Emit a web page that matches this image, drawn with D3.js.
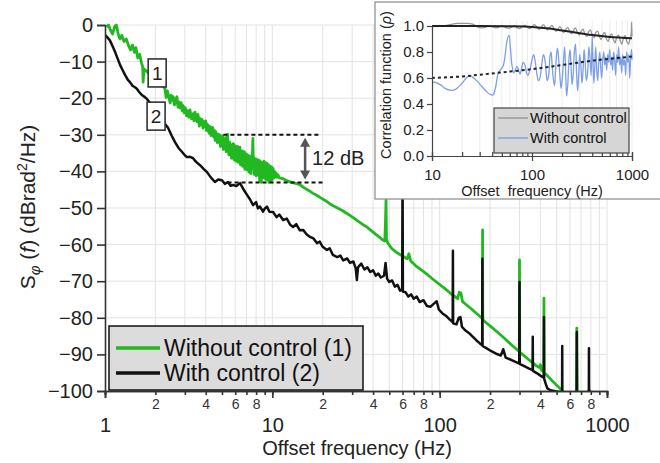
<!DOCTYPE html>
<html>
<head>
<meta charset="utf-8">
<script src="https://cdn.jsdelivr.net/npm/d3@7"></script>
<style>
  body { margin: 0; background: #fff; }
  svg { display: block; font-family: "Liberation Sans", Arial, sans-serif; }
</style>
</head>
<body>
<div id="chart"></div>
<script>
// ---- data (frequency in Hz, level in dBrad2/Hz) ----
var greenPts = [
  [1.02,-0.5],[1.05,0],[1.08,-1.5],[1.11,-2.5],[1.14,-0.5],[1.17,0],[1.20,-2.5],[1.23,-3.8],
  [1.26,-2.8],[1.30,-4.5],[1.34,-3.8],[1.38,-5.5],[1.42,-6.8],[1.46,-5.5],[1.50,-7.5],[1.53,-6.2],
  [1.57,-9.0],[1.61,-8.0],[1.65,-10.2],[1.68,-11.5],[1.69,-15.6],[1.71,-12.0],[1.76,-12.5],
  [1.85,-13.5],[1.95,-15],[2.05,-16],[2.15,-16.5],[2.28,-17.2],[2.32,-19.8],[2.36,-18.0],[2.40,-19.4],
  [2.45,-21.3],[2.49,-19.2],[2.52,-20.6],[2.56,-19.6],[2.60,-21.8],[2.65,-20.4],[2.69,-19.6],[2.73,-22.4],
  [2.76,-21.0],[2.80,-22.6],[2.85,-21.2],[2.89,-23.4],[2.93,-22.0],[2.97,-24.0],[3.02,-22.6],[3.07,-24.8],
  [3.12,-23.4],[3.17,-25.2],[3.22,-23.2],[3.29,-25.6],[3.36,-24.2],[3.40,-26.2],[3.45,-23.8],[3.50,-25.8],
  [3.55,-26.4],[3.59,-24.4],[3.62,-25.4],[3.66,-27.6],[3.70,-25.6],[3.75,-27.2],[3.80,-25.8],[3.85,-28.2],
  [3.90,-26.4],[3.95,-27.8],[4.00,-26.2],[4.04,-28.8],[4.07,-27.0],[4.11,-29.0],[4.15,-27.4],[4.20,-29.6],
  [4.25,-27.8],[4.30,-30.2],[4.35,-28.4],
  [4.40,-28.0],[4.45,-30.5],[4.50,-28.8],[4.55,-31.5],[4.60,-29.2],[4.65,-30.8],[4.70,-32.2],[4.75,-29.8],
  [4.80,-31.6],[4.85,-30.0],[4.90,-33.2],[4.95,-30.6],[5.00,-32.5],[5.05,-30.2],[5.10,-34.0],[5.15,-31.2],
  [5.20,-33.5],[5.25,-30.8],[5.30,-34.6],[5.35,-32.0],[5.40,-29.8],[5.45,-33.8],[5.50,-35.5],[5.55,-32.0],
  [5.60,-34.8],[5.65,-32.6],[5.70,-36.4],[5.75,-33.0],[5.80,-35.2],[5.85,-32.4],[5.90,-36.8],[5.95,-34.0],
  [6.00,-33.0],[6.05,-37.2],[6.10,-34.5],[6.15,-36.0],[6.20,-33.2],[6.25,-37.5],[6.30,-34.8],[6.35,-36.6],
  [6.40,-33.4],[6.45,-38.2],[6.50,-35.2],[6.55,-37.0],[6.60,-34.4],[6.65,-38.6],[6.70,-35.6],[6.75,-37.8],
  [6.80,-34.6],[6.85,-39.4],[6.90,-36.0],[6.95,-38.2],[7.00,-35.2],[7.05,-39.6],[7.10,-36.4],[7.15,-38.0],
  [7.20,-35.6],[7.25,-40.2],[7.30,-36.6],[7.35,-38.8],[7.40,-35.8],[7.45,-40.6],[7.50,-37.0],[7.55,-39.2],
  [7.60,-36.0],[7.65,-31.0],[7.70,-38.5],[7.75,-36.2],[7.80,-40.8],[7.85,-37.2],[7.90,-39.6],[7.95,-36.6],
  [8.00,-41.2],[8.05,-37.8],[8.10,-39.8],[8.15,-36.8],[8.20,-41.0],[8.25,-38.0],[8.30,-40.2],[8.35,-37.0],
  [8.40,-42.6],[8.45,-38.4],[8.50,-40.6],[8.55,-37.4],[8.60,-43.0],[8.65,-38.8],[8.70,-40.8],[8.75,-37.8],
  [8.80,-41.6],[8.85,-39.0],[8.90,-37.2],[8.95,-41.8],[9.00,-38.6],[9.05,-40.8],[9.10,-37.6],[9.15,-42.2],
  [9.20,-39.2],[9.25,-41.0],[9.30,-37.8],[9.35,-42.4],[9.40,-39.4],[9.45,-41.4],[9.50,-38.2],[9.55,-43.0],
  [9.60,-39.6],[9.65,-41.6],[9.70,-38.6],[9.75,-42.6],[9.80,-40.0],[9.85,-41.8],[9.90,-38.8],[9.95,-42.4],
  [10.0,-40.2],[10.1,-39.2],[10.2,-41.8],[10.3,-40.0],[10.4,-41.4],[10.5,-40.4],[10.6,-41.6],[10.8,-40.9],
  [11.0,-41.8],[11.6,-42.0],[12.3,-42.6],[13.0,-43.0],[13.8,-43.3],[14.6,-43.6],
  [15.5,-44.5],[16.5,-45.2],[17.5,-46.0],[18.5,-46.6],[19.6,-47.3],[20.8,-48.0],[22.0,-48.8],
  [23.1,-49.4],[24.5,-50.0],[26.0,-50.6],[27.5,-51.3],[29.1,-52.0],[31.0,-52.9],[33.0,-53.8],
  [35.0,-54.6],[36.7,-55.2],[39.0,-56.2],[41.5,-57.2],[44.0,-58.1],[45.9,-58.8],[47.0,-59.0],
  [47.5,-53],[47.8,-47.8],[48.1,-58.5],[49.0,-59.6],[52,-61.2],[56,-62.3],[60,-63.1],[64,-63.9],
  [65.5,-62.5],[67,-64.4],[72,-65.8],[78,-67.0],[85,-68.3],[92,-69.6],[100,-70.9],[108,-72.1],
  [116,-73.3],[124,-74.3],[128,-74.8],[131,-73.0],[134,-73.2],[137,-75.6],[145,-76.5],
  [155,-77.6],[165,-78.7],[175,-79.7],[180,-80.3],[180.5,-56.0],[181,-80.5],[190,-81.4],
  [205,-82.6],[220,-83.8],[240,-85.3],[260,-86.8],[280,-88.1],[299,-89.3],[300,-64.2],
  [301,-89.4],[320,-90.4],[340,-91.4],[360,-92.3],[380,-93.2],[395,-93.6],[400,-92.8],
  [405,-94.2],[419,-94.9],[420,-74.6],[421,-95.0],[440,-95.8],[470,-97.2],[500,-98.4],
  [530,-99.5],[550,-100.3],[600,-103],[655,-104],[660,-82.8],[665,-104],[700,-106]
];

var blackPts = [
  [1.0,-2.7],[1.03,-3.3],[1.07,-4.2],[1.11,-5.8],[1.15,-7.4],[1.19,-9.2],[1.23,-10.9],
  [1.28,-12.5],[1.32,-13.7],[1.37,-15.0],[1.41,-15.6],[1.46,-16.6],[1.51,-17.0],[1.55,-17.4],
  [1.60,-18.3],[1.66,-19.1],[1.72,-19.6],[1.78,-20.2],[1.95,-22.5],[2.15,-25.5],[2.38,-28.1],
  [2.50,-30.2],[2.62,-32.0],[2.75,-33.6],[2.89,-34.7],[3.00,-35.6],[3.09,-36.1],[3.22,-36.0],
  [3.36,-36.4],[3.50,-37.4],[3.70,-38.3],[3.88,-39.3],[4.07,-40.2],[4.30,-41.7],[4.54,-42.9],
  [4.75,-42.2],[5.00,-42.4],[5.20,-43.4],[5.43,-42.9],[5.63,-43.9],[5.83,-43.7],[6.10,-44.0],
  [6.41,-43.2],[6.70,-44.8],[7.06,-46.4],[7.35,-47.6],[7.67,-49.2],[8.00,-48.4],[8.20,-50.1],
  [8.44,-49.6],[8.80,-51.0],[9.0,-50.2],[9.29,-49.6],[9.60,-51.0],[10.1,-51.1],[10.6,-52.5],
  [11.0,-51.8],[11.6,-53.3],[12.2,-52.9],[12.8,-54.6],[13.3,-55.2],[13.9,-54.4],[14.6,-56.1],
  [15.3,-56.0],[16.0,-57.2],[16.8,-57.9],[17.6,-58.3],[18.5,-59.6],[19.2,-59.2],[20.0,-60.6],
  [21.2,-61.5],[22.0,-61.0],[23.0,-62.8],[24.4,-63.4],[25.5,-63.0],[26.5,-64.3],[28.0,-63.8],
  [29.1,-65.0],[30.5,-64.6],[31.5,-66.5],[32.0,-69.7],[32.5,-66.2],[34.0,-65.2],[35.5,-66.8],
  [37.0,-66.2],[38.5,-67.5],[40.0,-67.0],[41.5,-68.5],[43.0,-67.9],[44.5,-69.0],[46.5,-68.5],
  [47.5,-65.0],[48.5,-69.3],[50.0,-70.2],[52.0,-69.8],[54.0,-71.5],[56.0,-71.0],[58.0,-72.6],
  [59.7,-72.3],[60.0,-40],[60.3,-72.8],[62.5,-73.0],[65.0,-74.2],[67.5,-73.6],[70.0,-74.8],
  [73.0,-74.2],[76.0,-75.7],[80.0,-75.2],[84.0,-76.8],[88.0,-77.0],[92.0,-76.2],[96.0,-75.5],
  [99,-77.8],[104,-78.8],[110,-79.6],[115,-80.5],[119.6,-81.2],[120,-61.7],[120.4,-81.5],
  [126,-81.8],[130,-80.0],[133,-79.8],[136,-82.5],[142,-83.4],[150,-84.2],[158,-85.2],
  [166,-86.2],[174,-87.0],[179.5,-87.5],[180,-63.9],[180.5,-87.7],[190,-88.3],[205,-89.2],
  [220,-89.9],[232,-90.3],[240,-88.6],[248,-90.9],[265,-91.4],[282,-92.0],[299,-92.5],
  [300,-70.2],[301,-92.6],[320,-93.2],[340,-93.8],[359,-94.3],[360,-85.2],[361,-94.5],
  [380,-95.1],[400,-95.8],[419,-96.4],[420,-79.8],[421,-96.6],[430,-98.0],[440,-99.3],
  [460,-99.8],[500,-100.1],[539,-100.4],[540,-87.7],[541,-100.4],[560,-100.6],[600,-102],
  [659,-103],[660,-83.9],[661,-103],[750,-104],[779,-99.5],[780,-88.3],[781,-99.5],
  [790,-100.2],[800,-104]
];

// inset: correlation function
var rhoWithout = [
  [10,0.995],[12,1.0],[14,1.005],[16,1.015],[18,1.02],[20,1.02],[23,1.02],[26,1.012],[28,0.995],
  [31,0.985],[34,0.99],[37,1.0],[40,0.995],[43,0.985],[46,0.99],[50,1.0],[54,0.99],[58,0.982],
  [62,0.99],[66,1.0],[70,0.99],[75,0.98],[80,0.995],[85,1.005],[90,0.99],[95,0.98],[100,0.995],
  [106,1.01],[112,0.99],[118,0.975],[124,0.99],[130,1.01],[137,0.985],[144,0.97],[151,0.99],
  [158,1.005],[166,0.98],[174,0.96],[182,0.975],[190,0.995],[199,0.97],[208,0.95],[218,0.975],
  [228,0.99],[238,0.96],[249,0.94],[260,0.965],[272,0.985],[284,0.95],[297,0.93],[310,0.96],
  [324,0.975],[338,0.94],[353,0.92],[368,0.955],[384,0.97],[400,0.93],[417,0.91],[435,0.95],
  [453,0.96],[472,0.92],[492,0.895],[512,0.935],[533,0.95],[555,0.90],[578,0.88],[602,0.925],
  [626,0.94],[651,0.895],[677,0.87],[704,0.915],[732,0.93],[761,0.89],[791,0.86],[822,0.91],
  [854,0.925],[887,0.88],[921,0.86],[956,0.905],[980,0.94],[990,1.03],[1000,0.92]
];
var rhoWith = [
  [10,0.57],[11,0.565],[12.3,0.545],[13.5,0.52],[15.5,0.505],[17,0.51],[19.5,0.55],[22,0.60],
  [24,0.62],[26,0.60],[28.8,0.57],[31,0.54],[34.7,0.50],[38,0.475],[40.7,0.47],[43,0.52],
  [45.7,0.63],[48,0.66],[51.3,0.69],[54,0.78],[56,0.88],[58.9,0.93],[61,0.82],[63,0.70],
  [66,0.64],[70.8,0.69],[74,0.65],[76,0.63],[79,0.68],[81.3,0.72],[85,0.70],[88,0.64],[91,0.62],
  [95,0.66],[100,0.74],[104,0.78],[108,0.72],[112,0.63],[116,0.58],[120,0.60],[125,0.70],
  [130,0.78],[134,0.75],[138,0.66],[142,0.58],[147,0.62],[151,0.76],[155,0.80],[159,0.70],
  [163,0.60],[168,0.54],[172,0.66],[176,0.78],[180,0.83],[185,0.74],[190,0.62],[195,0.52],
  [200,0.58],[206,0.72],[212,0.84],[218,0.60],[222,0.46],[228,0.55],[234,0.74],[240,0.82],
  [246,0.68],[252,0.55],[258,0.62],[265,0.80],[272,0.86],[279,0.64],[286,0.50],[293,0.62],
  [300,0.78],[308,0.70],[316,0.56],[324,0.66],[332,0.82],[340,0.72],[350,0.58],[360,0.64],
  [370,0.84],[380,0.76],[390,0.62],[400,0.92],[408,0.70],[416,0.56],[425,0.70],[434,0.84],
  [444,0.66],[454,0.58],[465,0.72],[476,0.80],[487,0.68],[498,0.60],[510,0.74],[522,0.80],
  [534,0.70],[546,0.76],[558,0.66],[571,0.78],[584,0.72],[598,0.82],[612,0.70],[626,0.76],
  [640,0.66],[655,0.80],[670,0.74],[686,0.62],[702,0.78],[718,0.72],[735,0.84],[752,0.70],
  [770,0.76],[788,0.64],[806,0.78],[825,0.70],[844,0.74],[864,0.62],[884,0.80],[905,0.72],
  [926,0.78],[948,0.60],[970,0.76],[990,0.82],[1000,0.74]
];
var fitWithout = [[10,1.0],[30,1.0],[60,0.998],[100,0.993],[150,0.98],[200,0.965],[300,0.945],[400,0.93],[600,0.915],[1000,0.905]];
var fitWith = [[10,0.60],[20,0.612],[30,0.625],[50,0.643],[100,0.668],[200,0.70],[400,0.733],[1000,0.765]];

var yTicks = [0, -10, -20, -30, -40, -50, -60, -70, -80, -90, -100];
var minorLabels = [2, 4, 6, 8];
var decades = [1, 10, 100, 1000];
var rhoTicks = [0, 0.2, 0.4, 0.6, 0.8, 1.0];
var seriesNames = ["Without control (1)", "With control (2)"];
var insetNames = ["Without control", "With control"];

// ---- set up ----
var W = 660, H = 463;
var green = "#22b822", black = "#111111", gridCol = "#e3e3e3", axisCol = "#333";

var svg = d3.select("#chart").append("svg").attr("width", W).attr("height", H);

var x = d3.scaleLog().domain([1, 1000]).range([105, 607]);
var y = d3.scaleLinear().domain([-100, 0]).range([391, 25]);

var allTicks = [];
decades.slice(0, 3).forEach(function (d) {
  for (var k = 1; k <= 9; k++) allTicks.push(d * k);
});
allTicks.push(1000);

// grid
svg.append("g").selectAll("line").data(allTicks.filter(function (d) { return d > 1; }))
  .enter().append("line")
  .attr("x1", function (d) { return x(d); }).attr("x2", function (d) { return x(d); })
  .attr("y1", y(0)).attr("y2", y(-100))
  .attr("stroke", gridCol).attr("stroke-width", 1);
svg.append("g").selectAll("line").data(yTicks.filter(function (d) { return d > -100; }))
  .enter().append("line")
  .attr("x1", x(1)).attr("x2", x(1000))
  .attr("y1", function (d) { return y(d); }).attr("y2", function (d) { return y(d); })
  .attr("stroke", gridCol).attr("stroke-width", 1);

// traces
svg.append("clipPath").attr("id", "plotClip").append("rect")
  .attr("x", x(1)).attr("y", y(0) - 6).attr("width", x(1000) - x(1)).attr("height", y(-100) - y(0) + 7);

var line = d3.line().x(function (d) { return x(d[0]); }).y(function (d) { return y(d[1]); });
var traces = svg.append("g").attr("clip-path", "url(#plotClip)");
traces.append("path").datum(greenPts).attr("d", line)
  .attr("fill", "none").attr("stroke", green).attr("stroke-width", 2.8).attr("stroke-linejoin", "round");
traces.append("path").datum(blackPts).attr("d", line)
  .attr("fill", "none").attr("stroke", black).attr("stroke-width", 2.5).attr("stroke-linejoin", "round");

// axes
function mantissa(d) { return Math.round(d / Math.pow(10, Math.floor(Math.log10(d) + 1e-9))); }
var xMinor = svg.append("g").attr("transform", "translate(0," + y(-100) + ")")
  .call(d3.axisBottom(x).tickValues(allTicks).tickSize(4).tickPadding(4)
    .tickFormat(function (d) { return minorLabels.indexOf(mantissa(d)) >= 0 ? String(mantissa(d)) : ""; }));
xMinor.selectAll("text").attr("font-size", "14px").attr("fill", "#333");
var xMajor = svg.append("g").attr("transform", "translate(0," + y(-100) + ")")
  .call(d3.axisBottom(x).tickValues(decades).tickSize(7).tickPadding(20).tickFormat(d3.format("d")));
xMajor.selectAll("text").attr("font-size", "20px").attr("fill", "#222");
[xMinor, xMajor].forEach(function (g) {
  g.select(".domain").attr("stroke", axisCol).attr("stroke-width", 1.6);
  g.selectAll(".tick line").attr("stroke", axisCol).attr("stroke-width", 1.6);
  g.attr("font-family", null);
});

var yAxis = svg.append("g").attr("transform", "translate(" + x(1) + ",0)")
  .call(d3.axisLeft(y).tickValues(yTicks).tickSize(8).tickPadding(4));
yAxis.select(".domain").attr("stroke", axisCol).attr("stroke-width", 1.6);
yAxis.selectAll(".tick line").attr("stroke", axisCol).attr("stroke-width", 1.6);
yAxis.selectAll("text").attr("font-size", "20px").attr("fill", "#222");
yAxis.attr("font-family", null);

// axis titles
svg.append("text").attr("x", 357).attr("y", 455).attr("text-anchor", "middle")
  .attr("font-size", "20px").attr("fill", "#222").text("Offset frequency (Hz)");

var yTitle = svg.append("text").attr("transform", "translate(35,207) rotate(-90)")
  .attr("text-anchor", "middle").attr("font-size", "21px").attr("fill", "#222");
yTitle.append("tspan").text("S");
yTitle.append("tspan").attr("font-style", "italic").attr("font-size", "15px").attr("dy", 5).text("\u03C6");
yTitle.append("tspan").attr("dy", -5).text(" (");
yTitle.append("tspan").attr("font-style", "italic").text("f");
yTitle.append("tspan").text(") (dBrad");
yTitle.append("tspan").attr("font-size", "14px").attr("dy", -8).text("2");
yTitle.append("tspan").attr("dy", 8).text("/Hz)");

// 12 dB annotation
var annTop = -30, annBot = -43;
svg.append("line").attr("x1", x(5.1)).attr("x2", x(19.3)).attr("y1", y(annTop)).attr("y2", y(annTop))
  .attr("stroke", "#111").attr("stroke-width", 2).attr("stroke-dasharray", "4,3");
svg.append("line").attr("x1", x(5.4)).attr("x2", x(20.6)).attr("y1", y(annBot)).attr("y2", y(annBot))
  .attr("stroke", "#111").attr("stroke-width", 2).attr("stroke-dasharray", "4,3");
var ax = x(15.7);
svg.append("line").attr("x1", ax).attr("x2", ax).attr("y1", y(annTop) + 8).attr("y2", y(annBot) - 8)
  .attr("stroke", "#555").attr("stroke-width", 2.5);
svg.append("path").attr("d", "M" + (ax - 5) + "," + (y(annTop) + 12) + " L" + ax + "," + (y(annTop) + 3) + " L" + (ax + 5) + "," + (y(annTop) + 12) + "Z").attr("fill", "#555");
svg.append("path").attr("d", "M" + (ax - 5) + "," + (y(annBot) - 12) + " L" + ax + "," + (y(annBot) - 3) + " L" + (ax + 5) + "," + (y(annBot) - 12) + "Z").attr("fill", "#555");
svg.append("text").attr("x", ax + 7).attr("y", 165).attr("font-size", "20px").attr("fill", "#222").text("12 dB");

// trace number boxes
[[2.05, -13.1, "1"], [2.02, -24.9, "2"]].forEach(function (b) {
  var cx = x(b[0]), cy = y(b[1]);
  svg.append("rect").attr("x", cx - 9).attr("y", cy - 14).attr("width", 18).attr("height", 28)
    .attr("fill", "#fff").attr("stroke", "#333").attr("stroke-width", 1.6);
  svg.append("text").attr("x", cx).attr("y", cy + 7).attr("text-anchor", "middle")
    .attr("font-size", "19px").attr("fill", "#222").text(b[2]);
});

// main legend
var leg = svg.append("g");
leg.append("rect").attr("x", 109).attr("y", 326).attr("width", 254).attr("height", 64)
  .attr("fill", "#dcdcdc").attr("stroke", "#111").attr("stroke-width", 1.5);
[green, black].forEach(function (c, i) {
  var ly = 348 + i * 25;
  leg.append("line").attr("x1", 116).attr("x2", 160).attr("y1", ly).attr("y2", ly)
    .attr("stroke", c).attr("stroke-width", 3.5);
  leg.append("text").attr("x", 164).attr("y", ly + 8).attr("font-size", "23px").attr("fill", "#111").text(seriesNames[i]);
});

// ---- inset ----
var ins = svg.append("g");
ins.append("rect").attr("x", 375).attr("y", 2).attr("width", 290).attr("height", 197)
  .attr("fill", "#fff").attr("stroke", "#8a8a8a").attr("stroke-width", 1.2);

var xi = d3.scaleLog().domain([10, 1000]).range([432, 632]);
var yi = d3.scaleLinear().domain([0, 1]).range([156, 26]);

var insTicks = [];
[10, 100].forEach(function (d) { for (var k = 1; k <= 9; k++) insTicks.push(d * k); });
insTicks.push(1000);

ins.append("g").selectAll("line").data(insTicks.filter(function (d) { return d > 10; }))
  .enter().append("line")
  .attr("x1", function (d) { return xi(d); }).attr("x2", function (d) { return xi(d); })
  .attr("y1", yi(1.04)).attr("y2", yi(0))
  .attr("stroke", "#ececec").attr("stroke-width", 1);

var iline = d3.line().x(function (d) { return xi(d[0]); }).y(function (d) { return yi(d[1]); }).curve(d3.curveCatmullRom);
ins.append("path").datum(rhoWithout).attr("d", iline).attr("fill", "none").attr("stroke", "#969696").attr("stroke-width", 1.3);
ins.append("path").datum(rhoWith).attr("d", iline).attr("fill", "none").attr("stroke", "#7d9fe8").attr("stroke-width", 1.3);
ins.append("path").datum(fitWithout).attr("d", iline).attr("fill", "none").attr("stroke", "#222").attr("stroke-width", 2);
ins.append("path").datum(fitWith).attr("d", iline).attr("fill", "none").attr("stroke", "#222").attr("stroke-width", 2).attr("stroke-dasharray", "3,3");

var xiMinor = ins.append("g").attr("transform", "translate(0," + yi(0) + ")")
  .call(d3.axisTop(xi).tickValues(insTicks).tickSize(4).tickFormat(""));
var xiMajor = ins.append("g").attr("transform", "translate(0," + yi(0) + ")")
  .call(d3.axisBottom(xi).tickValues([10, 100, 1000]).tickSize(5).tickPadding(8).tickFormat(d3.format("d")));
xiMajor.selectAll("text").attr("font-size", "15px").attr("fill", "#222");
var yiAxis = ins.append("g").attr("transform", "translate(" + xi(10) + ",0)")
  .call(d3.axisLeft(yi).tickValues(rhoTicks).tickSize(5).tickPadding(3).tickFormat(d3.format(".1f")));
yiAxis.selectAll("text").attr("font-size", "15px").attr("fill", "#222");
[xiMinor, xiMajor, yiAxis].forEach(function (g) {
  g.select(".domain").attr("stroke", "#444").attr("stroke-width", 1.2);
  g.selectAll(".tick line").attr("stroke", "#444").attr("stroke-width", 1.2);
  g.attr("font-family", null);
});

ins.append("text").attr("x", 532).attr("y", 196).attr("text-anchor", "middle")
  .attr("font-size", "14.5px").attr("fill", "#222").attr("xml:space", "preserve").text("Offset  frequency (Hz)");
var yiTitle = ins.append("text").attr("transform", "translate(391,85) rotate(-90)")
  .attr("text-anchor", "middle").attr("font-size", "14.5px").attr("fill", "#222");
yiTitle.append("tspan").text("Correlation function (");
yiTitle.append("tspan").attr("font-style", "italic").text("\u03C1");
yiTitle.append("tspan").text(")");

var ileg = ins.append("g");
ileg.append("rect").attr("x", 494).attr("y", 108).attr("width", 135).attr("height", 45)
  .attr("fill", "#d6d6d6").attr("stroke", "#444").attr("stroke-width", 1.2);
["#969696", "#7d9fe8"].forEach(function (c, i) {
  var ly = 118 + i * 20;
  ileg.append("line").attr("x1", 498).attr("x2", 528).attr("y1", ly).attr("y2", ly)
    .attr("stroke", c).attr("stroke-width", 1.4);
  ileg.append("text").attr("x", 530).attr("y", ly + 5).attr("font-size", "14.5px").attr("fill", "#111").text(insetNames[i]);
});
</script>
</body>
</html>
